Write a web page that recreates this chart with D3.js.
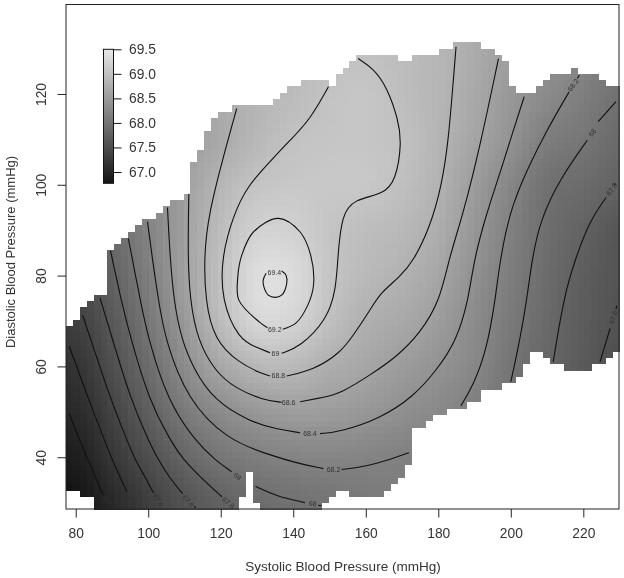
<!DOCTYPE html>
<html><head><meta charset="utf-8">
<style>html,body{margin:0;padding:0;background:#fff}svg{display:block}text{font-family:"Liberation Sans",Arial,sans-serif}</style>
<script src="https://cdnjs.cloudflare.com/ajax/libs/d3/7.8.5/d3.min.js"></script>
</head><body><div id="chart"></div>
<script>
// tick labels
const xTicks=[80,100,120,140,160,180,200,220];
const yTicks=[40,60,80,100,120];
const legendTicks=[67,67.5,68,68.5,69,69.5];
// value field: rows are diastolic, columns systolic
const fieldX=[80,90,100,110,120,130,140,150,160,170,180,190,200,210,220,230];
const fieldY=[30,40,50,60,70,80,90,100,110,120,130];
const field30=[66.78,67.03,67.32,67.58,67.77,67.9,67.97,68.02,68.08,68.12,68.1,68.05,67.95,67.8,67.6,67.45];
const field40=[66.9,67.21,67.52,67.82,68.03,68.14,68.21,68.23,68.21,68.17,68.12,68.05,67.95,67.8,67.62,67.47];
const field50=[67.06,67.37,67.73,68.08,68.3,68.47,68.54,68.52,68.46,68.36,68.27,68.14,67.98,67.8,67.64,67.5];
const field60=[67.18,67.52,67.9,68.31,68.66,68.87,68.89,68.75,68.65,68.52,68.4,68.25,68.02,67.83,67.67,67.52];
const field70=[67.34,67.65,68.04,68.49,68.93,69.27,69.24,68.98,68.78,68.68,68.53,68.3,68.08,67.87,67.7,67.57];
const field80=[67.45,67.77,68.14,68.58,68.99,69.35,69.33,69.05,68.9,68.8,68.65,68.37,68.12,67.9,67.72,67.6];
const field90=[67.55,67.87,68.2,68.57,68.94,69.2,69.2,69.04,68.96,68.88,68.74,68.45,68.17,67.93,67.78,67.62];
const field100=[67.62,67.95,68.25,68.55,68.85,69.03,69.08,69.09,69.08,68.97,68.81,68.52,68.24,67.97,67.9,67.78];
const field110=[67.7,68.0,68.28,68.5,68.7,68.88,69.01,69.05,69.06,68.99,68.84,68.63,68.4,68.13,68.03,67.88];
const field120=[67.75,68.05,68.3,68.52,68.72,68.84,68.93,69.02,69.06,68.95,68.85,68.68,68.47,68.3,68.14,67.98];
const field130=[67.8,68.1,68.32,68.55,68.72,68.84,68.92,68.98,69.0,68.94,68.86,68.72,68.55,68.4,68.25,68.1];
const fieldRows=[field30,field40,field50,field60,field70,field80,field90,field100,field110,field120,field130];
// first and last+1 filled grid row of each of the 80 grid columns
const colTop=[51,50,48,47,46,46,39,38,37,36,35,34,34,33,32,31,31,30,25,23,20,18,17,17,16,16,16,16,16,16,15,14,13,13,12,12,12,12,13,11,10,9,8,8,8,8,8,8,9,9,8,8,8,8,7,7,6,6,6,6,7,7,8,9,13,14,14,14,13,12,11,11,11,10,11,11,11,12,13,13];
const colBottom=[77,77,78,78,80,80,80,80,80,80,80,80,80,80,80,80,80,80,80,80,80,80,80,80,80,78,74,79,80,80,80,80,80,80,80,80,80,79,78,77,77,78,78,78,78,78,77,76,75,73,67,67,66,65,65,64,64,64,63,63,61,61,61,60,60,59,57,55,55,56,57,57,58,58,58,58,57,57,56,55];
// contour lines, [systolic, diastolic]
const c668=[[[78.0,34.4],[79.2,32.8]]];
const c670=[[[78.2,49.6],[81.0,43.8],[84.0,38.3],[86.2,34.2],[87.6,31.6]]];
const c672=[[[78.2,64.5],[83.6,52.6],[87.9,43.8],[90.1,39.4],[92.2,35.7],[94.1,32.4]]];
const c674=[[[81.9,71.3],[84.2,65.8],[89.7,52.6],[94.1,43.8],[96.4,39.4],[99.1,35.7],[101.4,32.2]]];
const c676=[[[86.7,75.1],[90.2,65.8],[95.2,52.6],[100.0,43.8],[102.8,39.4],[106.0,35.3],[109.5,32.0]],[[112.7,29.2],[113.1,28.9]],[[224.6,61.0],[227.4,68.4]],[[229.0,72.6],[229.2,73.4]]];
const c678=[[[89.6,85.5],[92.5,74.6],[95.3,65.8],[100.2,52.6],[106.0,43.8],[109.7,39.4],[114.3,35.7],[120.3,31.3]],[[211.7,61.0],[213.1,68.0],[215.4,77.5],[217.7,83.4],[221.8,92.2],[226.3,97.2]],[[228.6,99.9],[228.8,100.3]]];
const c680=[[[94.5,88.2],[95.4,84.5],[97.8,74.6],[100.1,65.8],[105.3,52.6],[112.7,43.8],[118.4,39.4],[123.0,36.8]],[[129.6,33.6],[135.4,31.4],[143.2,30.0]],[[146.9,29.4],[147.8,29.3]],[[200.0,56.6],[202.5,65.8],[204.4,74.6],[205.8,83.4],[208.1,92.2],[213.6,101.4],[221.1,109.8]],[[224.1,113.9],[229.0,118.3]]];
const c682=[[[99.8,91.9],[101.0,84.5],[102.8,74.6],[104.7,65.8],[110.8,52.6],[121.9,43.8],[132.7,40.7],[141.9,38.5],[148.3,37.5]],[[153.3,37.3],[160.2,38.0],[166.7,39.5],[171.9,41.0]],[[186.2,51.3],[189.7,55.9],[193.3,63.6],[195.6,73.9],[197.0,83.4],[199.8,94.4],[204.4,103.2],[209.9,112.0],[216.1,120.5]],[[218.3,123.4],[218.9,124.1]]];
const c684=[[[105.3,95.0],[106.0,84.5],[107.0,74.6],[109.2,65.8],[112.5,59.5],[118.0,52.6],[128.1,47.8],[135.4,46.2],[141.9,45.4]],[[147.4,45.2],[152.9,45.6],[163.9,48.5],[173.1,53.3],[179.6,59.2],[185.1,65.8],[188.3,74.6],[189.8,83.4],[193.3,93.7],[197.0,102.5],[200.7,112.0],[203.7,119.4]]];
const c686=[[[111.2,98.0],[110.9,84.5],[111.5,74.6],[113.6,65.8],[118.4,58.9],[124.0,55.2],[131.6,52.6],[136.8,52.1]],[[141.9,52.2],[148.3,53.2],[152.9,54.0],[161.2,58.1],[168.5,62.1],[175.0,67.3],[180.5,74.6],[182.8,83.4],[186.9,93.7],[191.5,108.4],[196.6,127.8]]];
const c688=[[[124.4,116.8],[120.7,106.2],[116.6,93.3],[115.4,84.5],[115.7,74.6],[118.2,65.8],[125.0,60.8],[130.8,58.6],[133.6,57.9]],[[138.2,57.9],[145.5,59.2],[152.9,62.9],[156.6,66.9],[161.2,72.4],[163.9,76.1],[169.4,79.7],[173.3,83.4],[177.7,90.7],[180.9,99.6],[182.8,109.8],[184.0,121.6],[184.9,130.4]]];
const c690=[[[149.7,121.6],[144.6,114.3],[139.1,109.8],[133.9,105.4],[127.2,99.6],[123.5,93.3],[120.3,84.5],[120.1,74.6],[125.1,65.8],[129.9,64.2],[133.6,63.0]],[[136.8,62.9],[141.9,64.3],[149.2,70.2],[151.8,76.8],[152.3,84.5],[153.4,93.3],[156.6,96.8],[164.9,97.9],[168.3,101.0],[169.9,109.1],[169.0,114.3],[165.8,121.6],[162.1,125.6],[157.9,127.8]]];
const c692=[[[137.1,68.2],[140.8,69.6],[144.0,73.5],[145.6,78.0],[144.8,84.5],[141.9,89.6],[135.9,92.6],[129.0,89.6],[125.8,84.5],[124.7,79.7],[125.0,74.6],[130.6,69.8],[132.9,68.5]]];
const c694=[[[136.8,81.0],[138.0,80.1],[138.2,78.3],[136.8,75.7],[135.0,75.2],[133.1,75.7],[131.9,77.5],[131.7,79.0],[132.5,80.5]]];
const openLines=[c668,c670,c672,c674,c676,c678,c680,c682,c684,c686,c688,c690];
const loopLines=[c692,c694];
// contour labels
const labelTexts=["67","67.2","67.4","67.6","67.8","68","68","68.2","68.4","68.6","68.8","69","69.2","69.4","67.6","67.8","68","68.2"];
const labelX=[88.5,95.4,102.8,111.1,122.1,124.6,145.4,151.1,144.6,138.7,135.9,135.1,134.9,134.8,228.3,227.8,222.5,217.2];
const labelY=[30.4,30.7,30.6,30.4,30.0,35.8,29.8,37.4,45.2,52.1,57.9,62.8,68.1,80.6,70.8,99.0,111.5,122.0];
const labelAngles=[65,62,58,50,40,40,12,0,0,0,0,0,0,0,-75,-55,-50,-55];

const W=624,H=578;
const x=d3.scaleLinear().domain([77.32,229.84]).range([66,619]);
const y=d3.scaleLinear().domain([28.6,139.7]).range([509,4.5]);
const nGrid=80;
const colScale=d3.scaleLinear().domain([0,nGrid]).range(x.domain());
const rowScale=d3.scaleLinear().domain([0,nGrid]).range([y.domain()[1],y.domain()[0]]);
const gray=d3.scaleLinear().domain([66.77,69.5]).range(["#141414","#e8e8e8"]);

const svg=d3.select("#chart").append("svg").attr("width",W).attr("height",H);

function cr(p0,p1,p2,p3,t){return 0.5*(2*p1+(p2-p0)*t+(2*p0-5*p1+4*p2-p3)*t*t+(3*p1-p0-3*p2+p3)*t*t*t);}
function fieldAt(sx,dy){
  const fx=(sx-fieldX[0])/10,fy=(dy-fieldY[0])/10;
  const i=Math.max(0,Math.min(fieldX.length-2,Math.floor(fx))),j=Math.max(0,Math.min(fieldY.length-2,Math.floor(fy)));
  const tx=fx-i,ty=fy-j;
  const cl=(a,n)=>Math.max(0,Math.min(n-1,a));
  const rows=[-1,0,1,2].map(d=>{const r=fieldRows[cl(j+d,fieldY.length)];
    return cr(r[cl(i-1,16)],r[i],r[i+1],r[cl(i+2,16)],tx);});
  return cr(rows[0],rows[1],rows[2],rows[3],ty);
}
const cells=[];
colTop.forEach((top,c)=>{d3.range(top,colBottom[c]).forEach(r=>cells.push({c,r}));});
svg.append("g").attr("shape-rendering","crispEdges").selectAll("rect").data(cells).join("rect")
  .attr("x",d=>x(colScale(d.c))).attr("y",d=>y(rowScale(d.r)))
  .attr("width",d=>x(colScale(d.c+1))-x(colScale(d.c))+0.5)
  .attr("height",d=>y(rowScale(d.r+1))-y(rowScale(d.r))+0.5)
  .attr("fill",d=>gray(fieldAt(colScale(d.c+0.5),rowScale(d.r+0.5))));

const lineOpen=d3.line().x(d=>x(d[0])).y(d=>y(d[1])).curve(d3.curveBasis);
const lineLoop=d3.line().x(d=>x(d[0])).y(d=>y(d[1])).curve(d3.curveCatmullRom.alpha(0.5));
const lineG=svg.append("g").attr("fill","none").attr("stroke","#111").attr("stroke-width",1.1);
lineG.selectAll("path.o").data(openLines.flat()).join("path").attr("class","o").attr("d",lineOpen);
lineG.selectAll("path.l").data(loopLines.flat()).join("path").attr("class","l").attr("d",lineLoop);

svg.append("g").style("opacity",0.99).selectAll("text").data(labelTexts).join("text")
  .attr("text-anchor","middle").attr("dominant-baseline","central")
  .attr("font-size",7).attr("fill","#333")
  .attr("transform",(d,i)=>`translate(${x(labelX[i])},${y(labelY[i])}) rotate(${labelAngles[i]})`)
  .text(d=>d);

// frame
svg.append("rect").attr("x",66).attr("y",4.5).attr("width",553).attr("height",504.5)
  .attr("fill","none").attr("stroke","#222").attr("stroke-width",1);

// axes
const ax=svg.append("g").attr("transform","translate(0,509)").style("opacity",0.99)
  .call(d3.axisBottom(x).tickValues(xTicks).tickSize(8.5).tickPadding(11).tickFormat(d3.format("d")));
ax.select(".domain").remove();
ax.selectAll("line").attr("stroke","#222");
ax.selectAll("text").attr("font-size",13.8).attr("fill","#333").attr("font-family","Liberation Sans");
const ay=svg.append("g").attr("transform","translate(66,0)").style("opacity",0.99)
  .call(d3.axisLeft(y).tickValues(yTicks).tickSize(8.5).tickFormat(d3.format("d")));
ay.select(".domain").remove();
ay.selectAll("line").attr("stroke","#222");
ay.selectAll("text").attr("font-size",13.8).attr("fill","#333").attr("font-family","Liberation Sans")
  .attr("text-anchor","middle").attr("dy",null).attr("dominant-baseline","central")
  .attr("x",0).attr("transform","translate(-25,0) rotate(-90)");

const titles=svg.append("g").style("opacity",0.99);
titles.append("text").attr("x",343).attr("y",571).attr("text-anchor","middle")
  .attr("font-size",13.55).attr("fill","#333").text("Systolic Blood Pressure (mmHg)");
titles.append("text").attr("transform","translate(15,252) rotate(-90)").attr("text-anchor","middle")
  .attr("font-size",13).attr("fill","#333").text("Diastolic Blood Pressure (mmHg)");

// colour key
const ly=d3.scaleLinear().domain([67,69.5]).range([172,49.3]);
const defs=svg.append("defs");
const grad=defs.append("linearGradient").attr("id","key").attr("x1",0).attr("x2",0).attr("y1",1).attr("y2",0);
gray.domain().forEach((v,i)=>grad.append("stop").attr("offset",i).attr("stop-color",gray(v)));
svg.append("rect").attr("x",103.5).attr("width",10).attr("y",ly(69.5)).attr("height",ly(gray.domain()[0])-ly(69.5))
  .attr("fill","url(#key)").attr("stroke","#111").attr("stroke-width",1);
const kg=svg.append("g").attr("transform","translate(113.5,0)").style("opacity",0.99)
  .call(d3.axisRight(ly).tickValues(legendTicks).tickSize(8).tickPadding(7.5).tickFormat(d3.format(".1f")));
kg.select(".domain").remove();
kg.selectAll("line").attr("stroke","#111");
kg.selectAll("text").attr("font-size",13.8).attr("fill","#333").attr("font-family","Liberation Sans");
</script></body></html>
